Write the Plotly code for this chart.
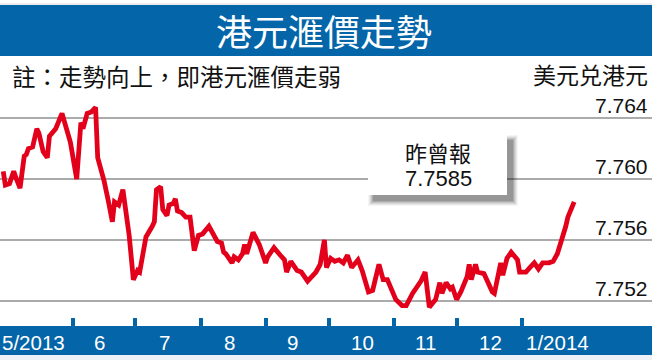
import plotly.graph_objects as go

# ---------------- data ----------------
dates = [
    "2013-04-29", "2013-04-30", "2013-05-02", "2013-05-04", "2013-05-05", "2013-05-07",
    "2013-05-09", "2013-05-10", "2013-05-11", "2013-05-13", "2013-05-15", "2013-05-16",
    "2013-05-18", "2013-05-20", "2013-05-21", "2013-05-24", "2013-05-27", "2013-05-28",
    "2013-05-31", "2013-06-03", "2013-06-05", "2013-06-06", "2013-06-08", "2013-06-10",
    "2013-06-12", "2013-06-13", "2013-06-16", "2013-06-18", "2013-06-20", "2013-06-21",
    "2013-06-23", "2013-06-25", "2013-06-27", "2013-06-28", "2013-06-30", "2013-07-02",
    "2013-07-03", "2013-07-05", "2013-07-06", "2013-07-09", "2013-07-10", "2013-07-11",
    "2013-07-13", "2013-07-14", "2013-07-16", "2013-07-17", "2013-07-19", "2013-07-20",
    "2013-07-21", "2013-07-23", "2013-07-25", "2013-07-27", "2013-07-29", "2013-07-31",
    "2013-08-02", "2013-08-05", "2013-08-07", "2013-08-09", "2013-08-11", "2013-08-12",
    "2013-08-13", "2013-08-16", "2013-08-17", "2013-08-19", "2013-08-21", "2013-08-22",
    "2013-08-23", "2013-08-26", "2013-08-29", "2013-09-01", "2013-09-02", "2013-09-05",
    "2013-09-08", "2013-09-10", "2013-09-11", "2013-09-13", "2013-09-16", "2013-09-18",
    "2013-09-21", "2013-09-25", "2013-09-27", "2013-09-29", "2013-09-30", "2013-10-02",
    "2013-10-04", "2013-10-06", "2013-10-08", "2013-10-10", "2013-10-12", "2013-10-15",
    "2013-10-17", "2013-10-20", "2013-10-22", "2013-10-25", "2013-10-27", "2013-10-29",
    "2013-11-02", "2013-11-05", "2013-11-07", "2013-11-10", "2013-11-14", "2013-11-16",
    "2013-11-18", "2013-11-21", "2013-11-23", "2013-11-24", "2013-11-26", "2013-11-28",
    "2013-11-29", "2013-12-01", "2013-12-03", "2013-12-06", "2013-12-07", "2013-12-08",
    "2013-12-10", "2013-12-11", "2013-12-14", "2013-12-16", "2013-12-18", "2013-12-19",
    "2013-12-21", "2013-12-22", "2013-12-23", "2013-12-25", "2013-12-27", "2013-12-30",
    "2013-12-31", "2014-01-03", "2014-01-05", "2014-01-07", "2014-01-09", "2014-01-11",
    "2014-01-14", "2014-01-16", "2014-01-18", "2014-01-20", "2014-01-22", "2014-01-23",
    "2014-01-26",
]
usd_hkd = [
    7.7605, 7.7596, 7.7597, 7.7605, 7.7601, 7.7594,
    7.7615, 7.7616, 7.7620, 7.7621, 7.7633, 7.7630,
    7.7618, 7.7614, 7.7628, 7.7633, 7.7643, 7.7638,
    7.7624, 7.7600, 7.7637, 7.7633, 7.7643, 7.7644,
    7.7647, 7.7614, 7.7599, 7.7586, 7.7572, 7.7585,
    7.7583, 7.7593, 7.7572, 7.7563, 7.7534, 7.7540,
    7.7539, 7.7556, 7.7562, 7.7569, 7.7572, 7.7593,
    7.7595, 7.7580, 7.7576, 7.7583, 7.7584, 7.7587,
    7.7579, 7.7578, 7.7575, 7.7575, 7.7553, 7.7563,
    7.7564, 7.7569, 7.7564, 7.7559, 7.7558, 7.7552,
    7.7551, 7.7545, 7.7549, 7.7547, 7.7551, 7.7557,
    7.7551, 7.7565, 7.7557, 7.7545, 7.7549, 7.7555,
    7.7550, 7.7547, 7.7539, 7.7546, 7.7540, 7.7539,
    7.7533, 7.7539, 7.7544, 7.7560, 7.7542, 7.7548,
    7.7546, 7.7547, 7.7545, 7.7550, 7.7542, 7.7547,
    7.7540, 7.7526, 7.7527, 7.7544, 7.7534, 7.7534,
    7.7521, 7.7517, 7.7517, 7.7525, 7.7533, 7.7539,
    7.7516, 7.7521, 7.7532, 7.7525, 7.7532, 7.7528,
    7.7529, 7.7521, 7.7526, 7.7536, 7.7544, 7.7534,
    7.7544, 7.7539, 7.7538, 7.7532, 7.7526, 7.7525,
    7.7538, 7.7545, 7.7537, 7.7548, 7.7552, 7.7547,
    7.7539, 7.7539, 7.7542, 7.7545, 7.7541, 7.7545,
    7.7545, 7.7546, 7.7551, 7.7559, 7.7569, 7.7575,
    7.7585,
]

y_ticks = [7.752, 7.756, 7.760, 7.764]
y_tick_labels = ["7.752", "7.756", "7.760", "7.764"]
month_starts = ["2013-06-01", "2013-07-01", "2013-08-01", "2013-09-01", "2013-10-01",
                "2013-11-01", "2013-12-01", "2014-01-01"]
month_label_dates = ["2013-05-13", "2013-06-14", "2013-07-15", "2013-08-15", "2013-09-14",
                     "2013-10-17", "2013-11-16", "2013-12-17", "2014-01-18"]
month_labels = ["5/2013", "6", "7", "8", "9", "10", "11", "12", "1/2014"]

title_text = "港元滙價走勢"
note_text = "註：走勢向上，即港元滙價走弱"
unit_text = "美元兑港元"
callout_title = "昨曾報"
callout_value = "7.7585"

# ---------------- styling ----------------
W, H = 652, 360
M_T, M_B = 60, 43
PLOT_H = H - M_T - M_B
BLUE = "#0565A9"
RED = "#E3001B"
GRID = "#ABABAB"
CJK = "Noto Sans CJK TC, Noto Sans CJK SC, sans-serif"
NUM = "Liberation Sans, Arial, sans-serif"


def px(x):
    return x / W


def py(y):
    return (H - M_B - y) / PLOT_H


fig = go.Figure()
fig.add_trace(go.Scatter(
    x=dates, y=usd_hkd, mode="lines",
    line=dict(color=RED, width=4.8, shape="linear"),
    hoverinfo="skip", showlegend=False,
))

shapes = []
# top title band
shapes.append(dict(type="rect", xref="paper", yref="paper", x0=0, x1=1,
                   y0=py(56), y1=py(5), fillcolor=BLUE, line_width=0, layer="above"))
shapes.append(dict(type="line", xref="paper", yref="paper", x0=0, x1=1,
                   y0=py(4), y1=py(4), line=dict(color="#D8D8D8", width=1), layer="above"))
# bottom axis band
shapes.append(dict(type="rect", xref="paper", yref="paper", x0=0, x1=1,
                   y0=py(355), y1=py(326), fillcolor=BLUE, line_width=0, layer="above"))
shapes.append(dict(type="rect", xref="paper", yref="paper", x0=0, x1=1,
                   y0=py(360), y1=py(355), fillcolor="#EEF2F6", line_width=0, layer="above"))
# callout shadow + box
bx0, bx1, by0, by1 = 368, 507, 135, 195
for k, op in [(6, 0.04), (5, 0.05), (4, 0.07), (3, 0.09), (2, 0.11), (1, 0.13)]:
    shapes.append(dict(type="rect", xref="paper", yref="paper",
                       x0=px(bx0 + 6 - k), x1=px(bx1 + 5 + k),
                       y0=py(by1 + 5 + k), y1=py(by0 + 6 - k),
                       fillcolor=f"rgba(0,0,0,{op})", line_width=0, layer="above"))
shapes.append(dict(type="rect", xref="paper", yref="paper",
                   x0=px(bx0), x1=px(bx1), y0=py(by1), y1=py(by0),
                   fillcolor="white", line_width=0, layer="above"))

annotations = []
annotations.append(dict(text=title_text, xref="paper", yref="paper", x=px(324), y=py(30),
                        xanchor="center", yanchor="middle", showarrow=False,
                        font=dict(family=CJK, size=36, color="white")))
annotations.append(dict(text=note_text, xref="paper", yref="paper", x=px(10), y=py(76),
                        xanchor="left", yanchor="middle", showarrow=False,
                        font=dict(family=CJK, size=23.5, color="#111111")))
annotations.append(dict(text=unit_text, xref="paper", yref="paper", x=px(650), y=py(74),
                        xanchor="right", yanchor="middle", showarrow=False,
                        font=dict(family=CJK, size=23, color="#111111")))
for v, t in zip(y_ticks, y_tick_labels):
    annotations.append(dict(text=t, xref="paper", yref="y", x=px(650), y=v, yshift=13,
                            xanchor="right", yanchor="middle", showarrow=False,
                            font=dict(family=NUM, size=21, color="#111111")))
for i, (d, t) in enumerate(zip(month_label_dates, month_labels)):
    annotations.append(dict(text=t, xref="x", yref="paper", x=d, y=py(342),
                            xanchor="center", yanchor="middle", showarrow=False,
                            xshift=1 if i == 0 else 0,
                            font=dict(family=NUM, size=20.5, color="white")))
annotations.append(dict(text=callout_title, xref="paper", yref="paper", x=px(438), y=py(152),
                        xanchor="center", yanchor="middle", showarrow=False,
                        font=dict(family=CJK, size=22, color="#111111")))
annotations.append(dict(text=callout_value, xref="paper", yref="paper", x=px(438), y=py(178),
                        xanchor="center", yanchor="middle", showarrow=False,
                        font=dict(family=NUM, size=22, color="#111111")))

fig.update_layout(
    width=W, height=H, autosize=False,
    margin=dict(l=0, r=0, t=M_T, b=M_B, pad=0),
    paper_bgcolor="white", plot_bgcolor="white",
    showlegend=False,
    shapes=shapes, annotations=annotations,
    xaxis=dict(type="date", range=["2013-04-27 11:00", "2014-03-04 02:00"],
               tickvals=month_starts, showticklabels=False, ticks="outside",
               ticklen=9, tickwidth=4, tickcolor=BLUE, showgrid=False,
               zeroline=False, showline=False, fixedrange=True),
    yaxis=dict(range=[7.750951, 7.767803], tickvals=y_ticks, showticklabels=False,
               showgrid=True, gridcolor=GRID, gridwidth=1.6, zeroline=False,
               showline=False, ticks="", fixedrange=True),
)

fig.write_html(
    "out.html",
    config={"displayModeBar": False, "staticPlot": True},
    post_script="document.body.style.margin='0';document.body.style.padding='0';",
)
